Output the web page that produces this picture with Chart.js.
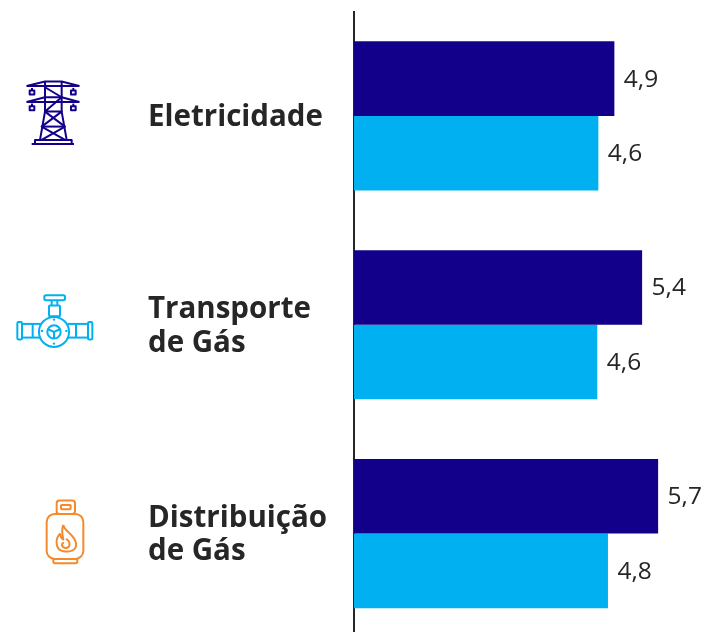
<!DOCTYPE html>
<html lang="pt">
  <head>
    <title>Setores</title>
    <meta charset="UTF-8" />
    <style>
      html, body { margin: 0; padding: 0; background: #fff; overflow: hidden; }
      .wrap { position: relative; width: 704px; height: 638px; }
    </style>
  </head>
  <body>
    <div class="wrap"><canvas id="myChart"></canvas></div>
    <script src="https://cdn.jsdelivr.net/npm/chart.js@4"></script>
    <script>
      const categories = [["Eletricidade"], ["Transporte", "de Gás"], ["Distribuição", "de Gás"]];
      const seriesDark = [4.88, 5.4, 5.7];
      const seriesLight = [4.58, 4.56, 4.76];

      const NAVY = "#12008A";
      const SKY = "#00B0F0";
      const ORANGE = "#F58A2C";
      const TEXT = "#262626";

      function roundRect(ctx, x0, y0, x1, y1, r) {
        ctx.beginPath();
        ctx.roundRect(x0, y0, x1 - x0, y1 - y0, r);
        ctx.stroke();
      }

      function line(ctx, pts) {
        ctx.beginPath();
        pts.forEach(function (p, i) {
          if (i == 0) ctx.moveTo(p[0], p[1]);
          else ctx.lineTo(p[0], p[1]);
        });
        ctx.stroke();
      }

      // icons are sketched at 3x, same scale I zoomed them at
      function tower(ctx) {
        ctx.strokeStyle = NAVY;
        line(ctx, [[80, 78], [135, 65], [185, 65], [238, 78]]);
        line(ctx, [[80, 78], [238, 78]]);
        line(ctx, [[80, 126], [135, 112], [185, 112], [238, 126]]);
        line(ctx, [[80, 126], [238, 126]]);
        line(ctx, [[135, 65], [135, 155], [120, 240]]);
        line(ctx, [[185, 65], [185, 155], [200, 240]]);
        line(ctx, [[135, 82], [185, 112], [135, 155], [185, 155], [125, 200], [195, 240]]);
        line(ctx, [[135, 155], [195, 200], [125, 240]]);
        line(ctx, [[125, 200], [195, 200]]);
        line(ctx, [[105, 252], [105, 240], [215, 240], [215, 252]]);
        line(ctx, [[95, 252], [222, 252]]);
        [[96, 98], [220, 98], [96, 145], [220, 145]].forEach(function (p) {
          line(ctx, [[p[0], p[1] - 14], [p[0], p[1] - 6]]);
          ctx.strokeRect(p[0] - 7, p[1] - 6, 14, 12);
        });
      }

      function valve(ctx) {
        ctx.strokeStyle = SKY;
        ctx.fillStyle = SKY;
        ctx.beginPath();
        ctx.arc(162, 155, 45, 0, Math.PI * 2);
        ctx.stroke();
        ctx.beginPath();
        ctx.arc(162, 155, 20, 0, Math.PI * 2);
        ctx.stroke();
        line(ctx, [[162, 155], [180, 147]]);
        line(ctx, [[162, 155], [144, 147]]);
        line(ctx, [[162, 155], [162, 175]]);
        [[126, 152], [199, 152], [162, 118], [162, 190]].forEach(function (p) {
          ctx.beginPath();
          ctx.arc(p[0], p[1], 3.5, 0, Math.PI * 2);
          ctx.fill();
        });
        roundRect(ctx, 133, 45, 195, 60, 5);
        line(ctx, [[155, 60], [155, 76]]);
        line(ctx, [[172, 60], [172, 76]]);
        roundRect(ctx, 147, 76, 180, 108, 3);
        roundRect(ctx, 52, 125, 66, 178, 4);
        roundRect(ctx, 264, 125, 277, 178, 4);
        line(ctx, [[66, 131], [122, 131]]);
        line(ctx, [[66, 172], [122, 172]]);
        line(ctx, [[203, 131], [264, 131]]);
        line(ctx, [[203, 172], [264, 172]]);
        line(ctx, [[98, 131], [98, 172]]);
        line(ctx, [[228, 131], [228, 172]]);
      }

      function bottle(ctx) {
        ctx.strokeStyle = ORANGE;
        roundRect(ctx, 80, 70, 190, 205, 24);
        roundRect(ctx, 110, 30, 165, 70, 8);
        roundRect(ctx, 123, 43, 152, 56, 2);
        roundRect(ctx, 100, 205, 172, 218, 5);
        ctx.beginPath();
        ctx.moveTo(130, 103);
        ctx.bezierCurveTo(135, 125, 162, 130, 168, 158);
        ctx.bezierCurveTo(172, 182, 145, 185, 130, 182);
        ctx.bezierCurveTo(105, 178, 105, 145, 120, 130);
        ctx.bezierCurveTo(122, 140, 125, 145, 130, 147);
        ctx.bezierCurveTo(126, 130, 125, 115, 130, 103);
        ctx.stroke();
        ctx.beginPath();
        ctx.moveTo(138, 145);
        ctx.bezierCurveTo(155, 155, 150, 175, 135, 172);
        ctx.bezierCurveTo(122, 168, 125, 155, 132, 158);
        ctx.stroke();
      }

      const icons = [
        { draw: tower, x: 0, dy: -56 },
        { draw: valve, x: 0, dy: -44.5 },
        { draw: bottle, x: 20, dy: -43 },
      ];

      const sideStuff = {
        id: "sideStuff",
        afterDraw(chart) {
          const ctx = chart.ctx;
          const yScale = chart.scales.y;
          icons.forEach(function (icon, i) {
            ctx.save();
            ctx.translate(icon.x, yScale.getPixelForTick(i) + icon.dy);
            ctx.scale(1 / 3, 1 / 3);
            ctx.lineWidth = 6;
            ctx.lineJoin = "round";
            icon.draw(ctx);
            ctx.restore();
          });

          // value labels at bar ends
          ctx.save();
          ctx.font = '24.5px "Open Sans"';
          ctx.fillStyle = TEXT;
          ctx.textBaseline = "middle";
          chart.data.datasets.forEach(function (ds, d) {
            chart.getDatasetMeta(d).data.forEach(function (bar, i) {
              const txt = ds.data[i].toFixed(1).replace(".", ",");
              ctx.fillText(txt, bar.x + 9.5, bar.y + 1);
            });
          });
          ctx.restore();
        },
      };

      new Chart(document.getElementById("myChart"), {
        type: "bar",
        data: {
          labels: categories,
          datasets: [
            { data: seriesDark, backgroundColor: NAVY },
            { data: seriesLight, backgroundColor: SKY },
          ],
        },
        options: {
          indexAxis: "y",
          responsive: true,
          maintainAspectRatio: false,
          animation: false,
          layout: { autoPadding: false, padding: { left: 148, top: 11.5, right: 0, bottom: 0 } },
          datasets: { bar: { barPercentage: 1, categoryPercentage: 0.7146 } },
          plugins: { legend: { display: false }, tooltip: { enabled: false } },
          scales: {
            x: { display: false, min: 0, max: 6.56 },
            y: {
              afterFit(scale) {
                scale.width = 206;
                // labels overhanging the ends would shrink the plot otherwise
                scale.paddingTop = 0;
                scale.paddingBottom = 0;
              },
              grid: { display: false, drawTicks: false },
              border: { display: true, color: "#262626", width: 2 },
              ticks: {
                crossAlign: "far",
                padding: 0,
                labelOffset: 1.5,
                color: TEXT,
                font: { family: "Open Sans", size: 29.5, weight: "bold", lineHeight: 1.15 },
              },
            },
          },
        },
        plugins: [sideStuff],
      });
    </script>
  </body>
</html>
